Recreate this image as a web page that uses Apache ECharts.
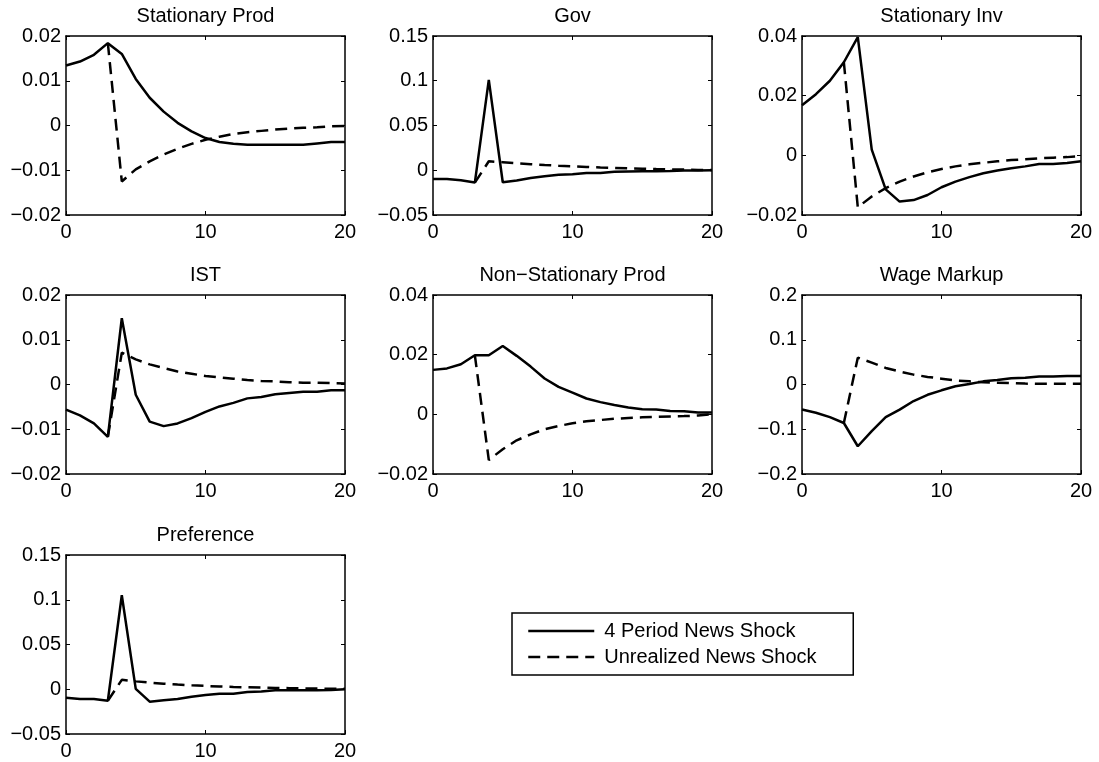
<!DOCTYPE html>
<html>
<head>
<meta charset="utf-8">
<script src="https://cdn.jsdelivr.net/npm/echarts@6/dist/echarts.min.js"></script>
<style>
  html, body { margin: 0; background: #fff; }
  #chart { width: 1099px; height: 762px; }
</style>
</head>
<body>
<div id="chart"></div>
<script>
// horizon (quarters after the news arrives)
const periods = [0, 1, 2, 3, 4, 5, 6, 7, 8, 9, 10, 11, 12, 13, 14, 15, 16, 17, 18, 19, 20]

const panelTitles = ['Stationary Prod', 'Gov', 'Stationary Inv', 'IST', 'Non\u2212Stationary Prod', 'Wage Markup', 'Preference']
const seriesNames = ['4 Period News Shock', 'Unrealized News Shock']

// y axis ranges for each panel
const yMin = [-0.02, -0.05, -0.02, -0.02, -0.02, -0.2, -0.05]
const yMax = [0.02, 0.15, 0.04, 0.02, 0.04, 0.2, 0.15]
const yStep = [0.01, 0.05, 0.02, 0.01, 0.02, 0.1, 0.05]

// realized news shock (solid) / unrealized (dashed)
const statProdNews = [0.0134, 0.0143, 0.0158, 0.0184, 0.0160, 0.0104, 0.0062, 0.0031, 0.0006, -0.0013, -0.0028, -0.0037, -0.0041, -0.0043, -0.0043, -0.0043, -0.0043, -0.0043, -0.0040, -0.0037, -0.0037]
const statProdUnreal = [null, null, null, 0.0184, -0.0125, -0.0098, -0.0080, -0.0065, -0.0052, -0.0041, -0.0032, -0.0025, -0.0019, -0.0015, -0.0012, -0.0009, -0.0007, -0.0005, -0.0004, -0.0002, -0.0001]

const govNews = [-0.0097, -0.0097, -0.0112, -0.0138, 0.1010, -0.0134, -0.0115, -0.0086, -0.0067, -0.0050, -0.0045, -0.0032, -0.0030, -0.0017, -0.0013, -0.0011, -0.0010, -0.0008, -0.0004, -0.0002, 0.0000]
const govUnreal = [null, null, null, -0.0138, 0.0100, 0.0090, 0.0078, 0.0068, 0.0059, 0.0051, 0.0044, 0.0037, 0.0031, 0.0026, 0.0021, 0.0017, 0.0013, 0.0010, 0.0007, 0.0004, 0.0002]

const statInvNews = [0.0168, 0.0205, 0.0250, 0.0312, 0.0396, 0.0019, -0.0114, -0.0155, -0.0150, -0.0133, -0.0107, -0.0088, -0.0073, -0.0060, -0.0051, -0.0043, -0.0037, -0.0029, -0.0029, -0.0026, -0.0020]
const statInvUnreal = [null, null, null, 0.0312, -0.0174, -0.0138, -0.0110, -0.0088, -0.0071, -0.0057, -0.0046, -0.0037, -0.0030, -0.0025, -0.0020, -0.0016, -0.0013, -0.0010, -0.0008, -0.0006, -0.0003]

const istNews = [-0.0056, -0.0069, -0.0087, -0.0117, 0.0148, -0.0023, -0.0083, -0.0093, -0.0087, -0.0075, -0.0061, -0.0049, -0.0041, -0.0031, -0.0028, -0.0022, -0.0019, -0.0016, -0.0016, -0.0013, -0.0013]
const istUnreal = [null, null, null, -0.0117, 0.0071, 0.0056, 0.0045, 0.0037, 0.0029, 0.0024, 0.0019, 0.0016, 0.0013, 0.0010, 0.0008, 0.0007, 0.0005, 0.0004, 0.0004, 0.0003, 0.0002]

const nonStatNews = [0.0149, 0.0154, 0.0168, 0.0198, 0.0198, 0.0229, 0.0196, 0.0160, 0.0120, 0.0092, 0.0073, 0.0053, 0.0041, 0.0031, 0.0023, 0.0017, 0.0016, 0.0011, 0.0010, 0.0006, 0.0006]
const nonStatUnreal = [null, null, null, 0.0198, -0.0153, -0.0117, -0.0087, -0.0067, -0.0050, -0.0039, -0.0030, -0.0023, -0.0019, -0.0015, -0.0012, -0.0010, -0.0008, -0.0007, -0.0006, -0.0004, 0.0000]

const wageNews = [-0.056, -0.063, -0.073, -0.086, -0.138, -0.104, -0.073, -0.056, -0.037, -0.023, -0.013, -0.004, 0.001, 0.007, 0.010, 0.014, 0.015, 0.018, 0.018, 0.019, 0.019]
const wageUnreal = [null, null, null, -0.086, 0.060, 0.049, 0.037, 0.029, 0.022, 0.017, 0.013, 0.009, 0.007, 0.005, 0.004, 0.003, 0.002, 0.0015, 0.0015, 0.0015, 0.0015]

const prefNews = [-0.0094, -0.0110, -0.0110, -0.0128, 0.1050, 0.0004, -0.0139, -0.0124, -0.0110, -0.0083, -0.0064, -0.0049, -0.0049, -0.0030, -0.0026, -0.0011, -0.0011, -0.0011, -0.0011, -0.0008, 0.0000]
const prefUnreal = [null, null, null, -0.0128, 0.0105, 0.0088, 0.0074, 0.0062, 0.0052, 0.0044, 0.0037, 0.0031, 0.0026, 0.0022, 0.0018, 0.0015, 0.0012, 0.0010, 0.0008, 0.0006, 0.0005]

const newsSeries = [statProdNews, govNews, statInvNews, istNews, nonStatNews, wageNews, prefNews]
const unrealSeries = [statProdUnreal, govUnreal, statInvUnreal, istUnreal, nonStatUnreal, wageUnreal, prefUnreal]

// layout
const colLeft = [66, 433, 802]
const rowTop = [36, 295, 555]
const boxW = 279
const boxH = 179

const font = 'Liberation Sans, Arial, Helvetica, sans-serif'
const axisColor = '#000'
const minus = (v) => String(v).replace('-', '\u2212')

const chart = echarts.init(document.getElementById('chart'))

const grid = []
const xAxis = []
const yAxis = []
const title = []
const series = []

const frameLine = { show: true, onZero: false, lineStyle: { color: axisColor, width: 1.5 } }
const tick = { show: true, inside: true, length: 4, lineStyle: { color: axisColor, width: 1 } }

panelTitles.forEach((name, i) => {
  const left = colLeft[i % 3]
  const top = rowTop[Math.floor(i / 3)]
  grid.push({ left: left, top: top, width: boxW, height: boxH, containLabel: false })

  title.push({
    text: name,
    left: left + boxW / 2,
    top: top - 30,
    textAlign: 'center',
    padding: 0,
    textStyle: { fontFamily: font, fontSize: 20, fontWeight: 'normal', color: '#000' }
  })

  const xBase = { gridIndex: i, type: 'value', min: 0, max: 20, interval: 10, axisLine: frameLine, axisTick: tick, splitLine: { show: false } }
  xAxis.push(Object.assign({}, xBase, {
    position: 'bottom',
    axisLabel: { color: '#000', fontFamily: font, fontSize: 20, margin: 7 }
  }))
  xAxis.push(Object.assign({}, xBase, { position: 'top', axisLabel: { show: false } }))

  const yBase = { gridIndex: i, type: 'value', min: yMin[i], max: yMax[i], interval: yStep[i], axisLine: frameLine, axisTick: tick, splitLine: { show: false } }
  yAxis.push(Object.assign({}, yBase, {
    position: 'left',
    axisLabel: { color: '#000', fontFamily: font, fontSize: 20, margin: 5, formatter: minus }
  }))
  yAxis.push(Object.assign({}, yBase, { position: 'right', axisLabel: { show: false } }))

  series.push({
    name: seriesNames[0],
    type: 'line',
    xAxisIndex: 2 * i,
    yAxisIndex: 2 * i,
    symbol: 'none',
    data: periods.map((p, k) => [p, newsSeries[i][k]]),
    lineStyle: { color: '#000', width: 2.5 },
    itemStyle: { color: '#000' },
    z: 3
  })
  series.push({
    name: seriesNames[1],
    type: 'line',
    xAxisIndex: 2 * i,
    yAxisIndex: 2 * i,
    symbol: 'none',
    data: periods.map((p, k) => [p, unrealSeries[i][k]]),
    lineStyle: { color: '#000', width: 2.5, type: [12, 7] },
    itemStyle: { color: '#000' },
    z: 2
  })
})

const option = {
  animation: false,
  backgroundColor: '#fff',
  title: title,
  grid: grid,
  xAxis: xAxis,
  yAxis: yAxis,
  legend: {
    data: seriesNames,
    orient: 'vertical',
    left: 512,
    top: 613,
    itemWidth: 66,
    itemHeight: 14,
    itemGap: 6,
    padding: [8, 7, 8, 15],
    borderColor: '#000',
    borderWidth: 1.5,
    selectedMode: false,
    itemStyle: { opacity: 0 },
    lineStyle: { width: 2.5 },
    textStyle: { fontFamily: font, fontSize: 20, color: '#000', lineHeight: 20, width: 242, padding: [0, 0, 0, 5] }
  },
  series: series
}

chart.setOption(option)
</script>
</body>
</html>
